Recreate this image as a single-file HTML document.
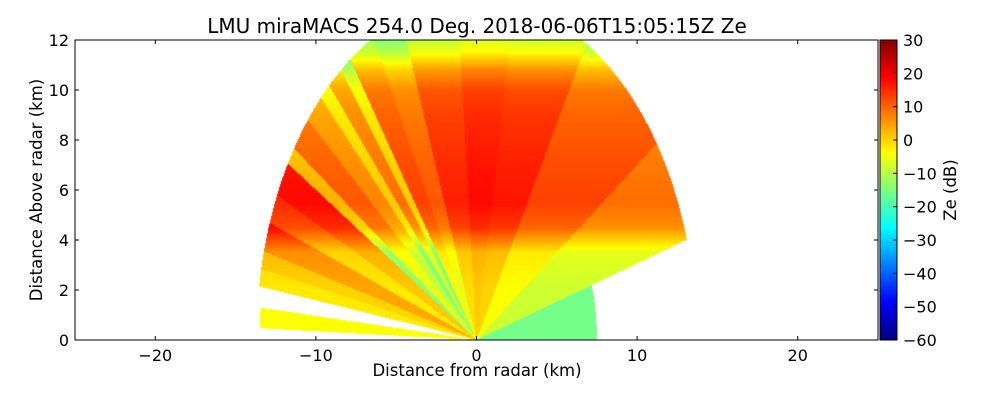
<!DOCTYPE html>
<html><head><meta charset="utf-8">
<style>
body{margin:0;background:#fff;font-family:"DejaVu Sans",sans-serif;}
#wrap{position:relative;width:1000px;height:400px;overflow:hidden;}
</style></head>
<body>
<div id="wrap">
<canvas id="cv" width="803" height="300" style="position:absolute;left:75px;top:40px"></canvas>
<canvas id="cb" width="17" height="300" style="position:absolute;left:880px;top:40px"></canvas>
<svg id="sv" width="1000" height="400" style="position:absolute;left:0;top:0" font-family="DejaVu Sans, sans-serif"></svg>
</div>
<script>
// ---- data ----
const profileHeights = [0, 2, 3.5, 4.5, 5.5, 7, 9, 10, 10.8, 11.5, 12];
const profileZe      = [-2, -2, 0, 12, 15, 14, 12, 10, 4, -6, -10];
const rayStart  = [0, 17, 35, 60, 80, 95, 110, 118, 125, 128, 132, 135, 140, 146, 149, 155, 160, 165, 168, 171, 174.5, 178];
const rayEnd    = [17, 35, 60, 80, 95, 110, 118, 125, 128, 132, 135, 140, 146, 149, 155, 160, 165, 168, 171, 174.5, 178, 180];
const rayOffset = [-14, -6, -2, 2, 3, 1, -4, -2, -14, -6, -14, -8, -4, -12, 3, 0, 6, 2, 0, 0, -2, 0];
const rayMaxR   = [7.5, 13.7, 13.7, 13.7, 13.7, 13.7, 13.7, 13.7, 13.7, 13.7, 13.7, 13.7, 13.7, 13.7, 13.7, 13.7, 13.7, 13.7, 13.7, 0, 13.5, 0];
const xTicks = [-20, -10, 0, 10, 20];
const yTicks = [0, 2, 4, 6, 8, 10, 12];
const cbTicks = [30, 20, 10, 0, -10, -20, -30, -40, -50, -60];

// ---- axes ----
const PL=75, PT=40, PW=803, PH=300;
const xMin=-25, xMax=25, yMin=0, yMax=12, zMin=-60, zMax=30;
const sx = v => PL + (v - xMin) / (xMax - xMin) * PW;
const sy = v => PT + PH - (v - yMin) / (yMax - yMin) * PH;
const sz = v => PT + PH - (v - zMin) / (zMax - zMin) * PH;

function jet(t){
  t=Math.max(0,Math.min(1,t));
  const f=x=>Math.max(0,Math.min(1,x));
  const r=f(1.5-Math.abs(4*t-3)), g=f(1.5-Math.abs(4*t-2)), b=f(1.5-Math.abs(4*t-1));
  return [r*255|0,g*255|0,b*255|0];
}
function prof(h){
  for(let i=0;i<profileHeights.length-1;i++){
    if(h<=profileHeights[i+1]){const a=(h-profileHeights[i])/(profileHeights[i+1]-profileHeights[i]);return profileZe[i]+a*(profileZe[i+1]-profileZe[i]);}
  }
  return profileZe[profileZe.length-1];
}
const ctx=document.getElementById('cv').getContext('2d');
const img=ctx.createImageData(PW,PH);
for(let py=0;py<PH;py++){for(let px=0;px<PW;px++){
  const xk=xMin+(px+0.5)/PW*(xMax-xMin), yk=yMax-(py+0.5)/PH*(yMax-yMin);
  const r=Math.hypot(xk,yk), ang=Math.atan2(yk,xk)*180/Math.PI;
  let k=-1;
  for(let i=0;i<rayStart.length;i++){if(ang>=rayStart[i]&&ang<rayEnd[i]){k=i;break;}}
  const o=(py*PW+px)*4;
  if(k<0||r>rayMaxR[k]){img.data[o]=255;img.data[o+1]=255;img.data[o+2]=255;img.data[o+3]=255;continue;}
  const z=prof(yk)+rayOffset[k];
  const c=jet((z-zMin)/(zMax-zMin));
  img.data[o]=c[0];img.data[o+1]=c[1];img.data[o+2]=c[2];img.data[o+3]=255;
}}
ctx.putImageData(img,0,0);
const cb=document.getElementById('cb').getContext('2d');
for(let y=0;y<PH;y++){const c=jet(1-(y+0.5)/PH);cb.fillStyle=`rgb(${c[0]},${c[1]},${c[2]})`;cb.fillRect(0,y,17,1);}

const NS='http://www.w3.org/2000/svg', sv=document.getElementById('sv');
function mk(tag,attrs,txt){const e=document.createElementNS(NS,tag);for(const k in attrs)e.setAttribute(k,attrs[k]);if(txt!==undefined)e.textContent=txt;sv.appendChild(e);return e;}
let e;
e=mk('rect',{x:PL,y:PT,width:PW,height:PH,fill:'none',stroke:'#000','stroke-width':1});


e=mk('rect',{x:880,y:PT,width:17,height:PH,fill:'none',stroke:'#000','stroke-width':1});


xTicks.forEach(v=>{
  const x=sx(v);
  mk('line',{x1:x,x2:x,y1:PT+PH,y2:PT+PH-4,stroke:'#000'});
  mk('line',{x1:x,x2:x,y1:PT,y2:PT+4,stroke:'#000'});
  e=mk('text',{x:x,y:361,'font-size':16,'text-anchor':'middle'},(v<0?'\u2212':'')+Math.abs(v));
  
  
});
yTicks.forEach(v=>{
  const y=sy(v);
  mk('line',{x1:PL,x2:PL+4,y1:y,y2:y,stroke:'#000'});
  mk('line',{x1:PL+PW,x2:PL+PW-4,y1:y,y2:y,stroke:'#000'});
  e=mk('text',{x:69,y:y+6,'font-size':16,'text-anchor':'end'},String(v));
  
  
});
cbTicks.forEach(v=>{
  const y=sz(v);
  mk('line',{x1:893,x2:897,y1:y,y2:y,stroke:'#000'});
  e=mk('text',{x:903,y:y+6,'font-size':16},(v<0?'\u2212':'')+Math.abs(v));
  
  
});
e=mk('text',{x:477,y:33,'font-size':20,'text-anchor':'middle'},'LMU miraMACS 254.0 Deg. 2018-06-06T15:05:15Z  Ze');


e=mk('text',{x:477,y:376,'font-size':16.5,'text-anchor':'middle'},'Distance from radar (km)');


e=mk('text',{x:0,y:0,'font-size':16.5,'text-anchor':'middle',transform:'translate(42,190) rotate(-90)'},'Distance Above radar  (km)');


e=mk('text',{x:0,y:0,'font-size':16.5,'text-anchor':'middle',transform:'translate(956,190) rotate(-90)'},'Ze (dB)');


</script>
</body></html>
